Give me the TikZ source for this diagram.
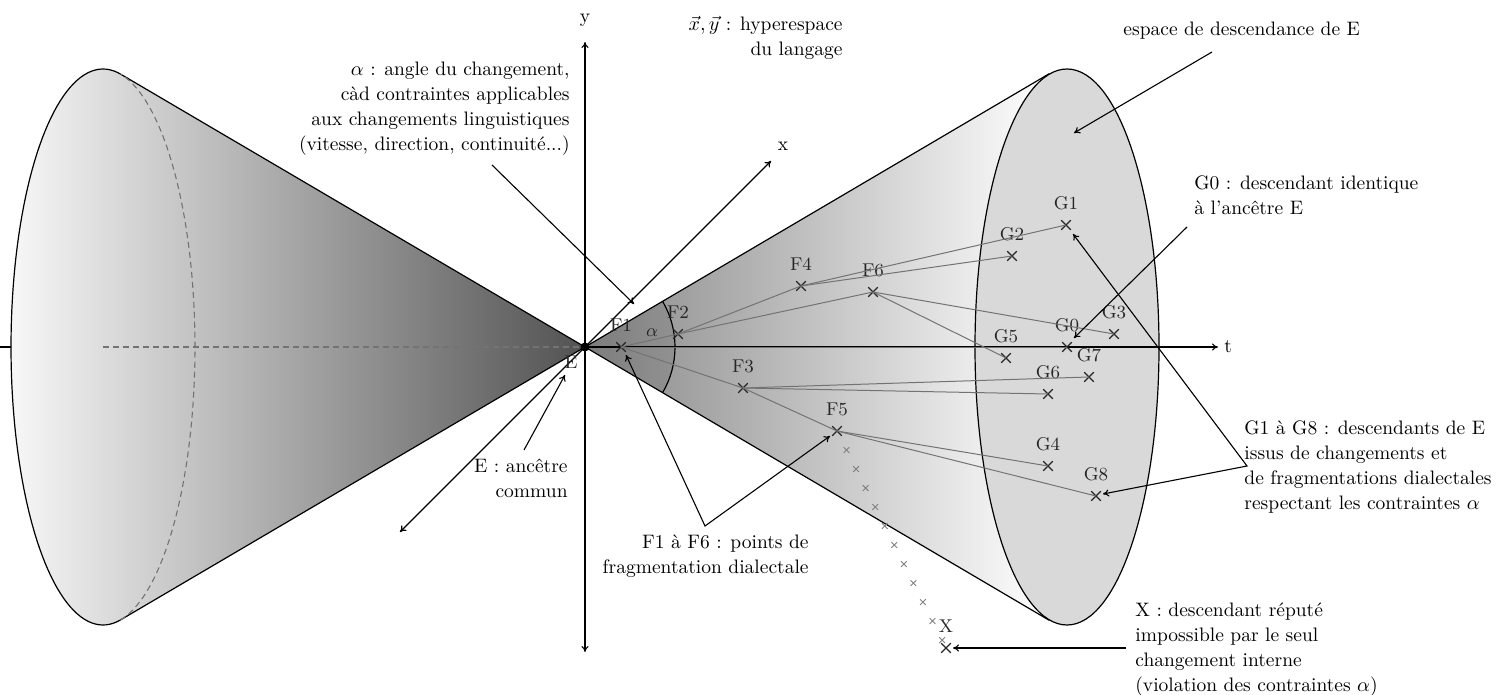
\documentclass[tikz,border=0pt]{standalone}
\usepackage{fontspec}
\usetikzlibrary{arrows.meta,shapes.misc,calc}
\begin{document}
\begin{tikzpicture}[x=0.5pt,y=-0.5pt,
  txt/.style={inner sep=0pt, font=\fontsize{9.75}{12.5}\selectfont},
  lbl/.style={inner sep=0pt, font=\fontsize{9.25}{10}\selectfont, text=black!85},
  pt/.style={draw=black!85, cross out, minimum size=4.3pt, inner sep=0pt, line width=0.55pt},
  minipt/.style={draw=black!50, cross out, minimum size=2.4pt, inner sep=0pt, line width=0.45pt},
  link/.style={draw=black!55, line width=0.5pt},
  outline/.style={draw=black, line width=0.6pt},
  hidden/.style={draw=black!55, line width=0.55pt, dash pattern=on 3pt off 2pt},
  ann/.style={draw=black, line width=0.55pt, -{To[length=3pt,width=3.6pt]}},
  axis/.style={draw=black, line width=0.55pt, {To[length=3pt,width=3.6pt]}-{To[length=3pt,width=3.6pt]}},
]
\useasboundingbox (0,0) rectangle (1510,695);

% ---------- left cone ----------
\shade[left color=black!3, right color=black!68]
  (585,347) -- plot[domain=79:281, samples=90, variable=\t] ({103+92*cos(\t)}, {347-278*sin(\t)}) -- cycle;
\draw[outline]
  (585,347) -- plot[domain=79:281, samples=90, variable=\t] ({103+92*cos(\t)}, {347-278*sin(\t)}) -- cycle;
\draw[hidden] plot[domain=-79:79, samples=60, variable=\t] ({103+92*cos(\t)}, {347-278*sin(\t)});
\coordinate (lstubA) at (0,347);
\coordinate (lstubB) at (11,347);
\coordinate (lcen) at (103,347);
\coordinate (apex) at (585,347);
\draw[outline, line width=0.55pt] (lstubA) -- (lstubB);
\draw[hidden] (lcen) -- (apex);

% ---------- right cone ----------
\coordinate (rtu) at (1049.4,73.6);
\coordinate (rtl) at (1049.4,620.4);
\shade[left color=black!47, right color=white] (apex) -- (rtu) -- (rtl) -- cycle;
\fill[black, opacity=0.08] (apex) -- ++(30.5:45pt) arc[start angle=30.5, end angle=-30.5, radius=45pt] -- cycle;
\draw[outline] (apex) ++(30.5:45pt) arc[start angle=30.5, end angle=-30.5, radius=45pt];
\draw[outline] (rtu) -- (apex) -- (rtl);
\draw[outline, fill=black!15] (1067,347) circle[x radius=46pt, y radius=139pt];
\node[lbl] (alab) at (652,333) {$\alpha$};

% ---------- axes ----------
\coordinate (ytop) at (585,42);
\coordinate (ybot) at (585,652);
\coordinate (xpos) at (771,161);
\coordinate (xneg) at (400,532);
\coordinate (tend) at (1218,347);
\draw[axis] (ybot) -- (ytop);
\draw[axis] (xneg) -- (xpos);
\draw[line width=0.55pt, -{To[length=3pt,width=3.6pt]}] (apex) -- (tend);
\node[txt] (ylab) at (585,20) {y};
\node[txt] (xlab) at (783,146) {x};
\node[txt, anchor=west] (tlab) at (1224,347) {t};

% ---------- points ----------
\node[pt, label={[lbl,label distance=5pt]above:F1}] (F1) at (621,347) {};
\node[pt, label={[lbl,label distance=5pt]above:F2}] (F2) at (678,334) {};
\node[pt, label={[lbl,label distance=5pt]above:F3}] (F3) at (743,388) {};
\node[pt, label={[lbl,label distance=5pt]above:F4}] (F4) at (801,286) {};
\node[pt, label={[lbl,label distance=5pt]above:F5}] (F5) at (837,431) {};
\node[pt, label={[lbl,label distance=5pt]above:F6}] (F6) at (873,292) {};
\node[pt, label={[lbl,label distance=5pt]above:G0}] (G0) at (1067,347) {};
\node[pt, label={[lbl,label distance=5pt]above:G1}] (G1) at (1066,225) {};
\node[pt, label={[lbl,label distance=5pt]above:G2}] (G2) at (1012,256) {};
\node[pt, label={[lbl,label distance=5pt]above:G3}] (G3) at (1114,334) {};
\node[pt, label={[lbl,label distance=5pt]above:G4}] (G4) at (1048,466) {};
\node[pt, label={[lbl,label distance=5pt]above:G5}] (G5) at (1006,358) {};
\node[pt, label={[lbl,label distance=5pt]above:G6}] (G6) at (1048,394) {};
\node[pt, label={[lbl,label distance=5pt]above:G7}] (G7) at (1089,377) {};
\node[pt, label={[lbl,label distance=5pt]above:G8}] (G8) at (1096,496) {};
\node[pt, label={[lbl,label distance=5pt]above:X}] (X) at (946,648) {};

% ---------- connectors ----------
\draw[link] (F1.center) -- (F2.center);
\draw[link] (F1.center) -- (F3.center);
\draw[link] (F1.center) -- (G0.center);
\draw[link] (F2.center) -- (F4.center);
\draw[link] (F2.center) -- (F6.center);
\draw[link] (F4.center) -- (G1.center);
\draw[link] (F4.center) -- (G2.center);
\draw[link] (F6.center) -- (G3.center);
\draw[link] (F6.center) -- (G5.center);
\draw[link] (F3.center) -- (G7.center);
\draw[link] (F3.center) -- (G6.center);
\draw[link] (F3.center) -- (F5.center);
\draw[link] (F5.center) -- (G4.center);
\draw[link] (F5.center) -- (G8.center);
\foreach \k in {1,...,11} {
  \node[minipt] (m\k) at ($(F5.center)!\k*0.0876!(X.center)$) {};
}

% ---------- apex ----------
\node[circle, fill=black, inner sep=0pt, minimum size=4.5pt] (E) at (585,347) {};
\node[lbl] (Elab) at (571,362) {E};

% ---------- annotations (base anchor = baseline of last line) ----------
\node[txt, align=right, anchor=base east] (alpha) at (570,151)
  {$\alpha$ : angle du changement,\\ càd contraintes applicables\\ aux changements linguistiques\\ (vitesse, direction, continuité...)};
\coordinate (a1s) at (492,165);
\coordinate (a1e) at (634,304);
\draw[ann] (a1s) -- (a1e);

\node[txt, align=right, anchor=base east] (hyp) at (843,56)
  {$\vec{x},\vec{y}$ : hyperespace\\ du langage};

\node[txt, anchor=base west] (esp) at (1123,36) {espace de descendance de E};
\coordinate (a2s) at (1212,52);
\coordinate (a2e) at (1074,133);
\draw[ann] (a2s) -- (a2e);

\node[txt, align=left, anchor=base west] (g0t) at (1194,215)
  {G0 : descendant identique\\ à l'ancêtre E};
\coordinate (a3s) at (1187,227);
\coordinate (a3e) at (1074,338);
\draw[ann] (a3s) -- (a3e);

\node[txt, align=left, anchor=base west] (gt) at (1244,509)
  {G1 à G8 : descendants de E\\ issus de changements et\\ de fragmentations dialectales\\ respectant les contraintes $\alpha$};
\coordinate (vG) at (1247,466);
\coordinate (gt1) at (1073,234);
\coordinate (gt8) at (1103,494);
\draw[ann, {To[length=3pt,width=3.6pt]}-{To[length=3pt,width=3.6pt]}] (gt1) -- (vG) -- (gt8);

\node[txt, align=left, anchor=base west] (xt) at (1135,691)
  {X : descendant réputé\\ impossible par le seul\\ changement interne\\ (violation des contraintes $\alpha$)};
\coordinate (a5s) at (1126,648);
\coordinate (a5e) at (953,648);
\draw[ann] (a5s) -- (a5e);

\node[txt, align=right, anchor=base east] (et) at (568,497) {E : ancêtre\\ commun};
\coordinate (a6s) at (524,450);
\coordinate (a6e) at (565,375);
\draw[ann] (a6s) -- (a6e);

\node[txt, align=right, anchor=base east] (ft) at (809,573)
  {F1 à F6 : points de\\ fragmentation dialectale};
\coordinate (vF) at (705,526);
\coordinate (ft1) at (626,355);
\coordinate (ft5) at (830,436);
\draw[ann, {To[length=3pt,width=3.6pt]}-{To[length=3pt,width=3.6pt]}] (ft1) -- (vF) -- (ft5);
\end{tikzpicture}
\end{document}
